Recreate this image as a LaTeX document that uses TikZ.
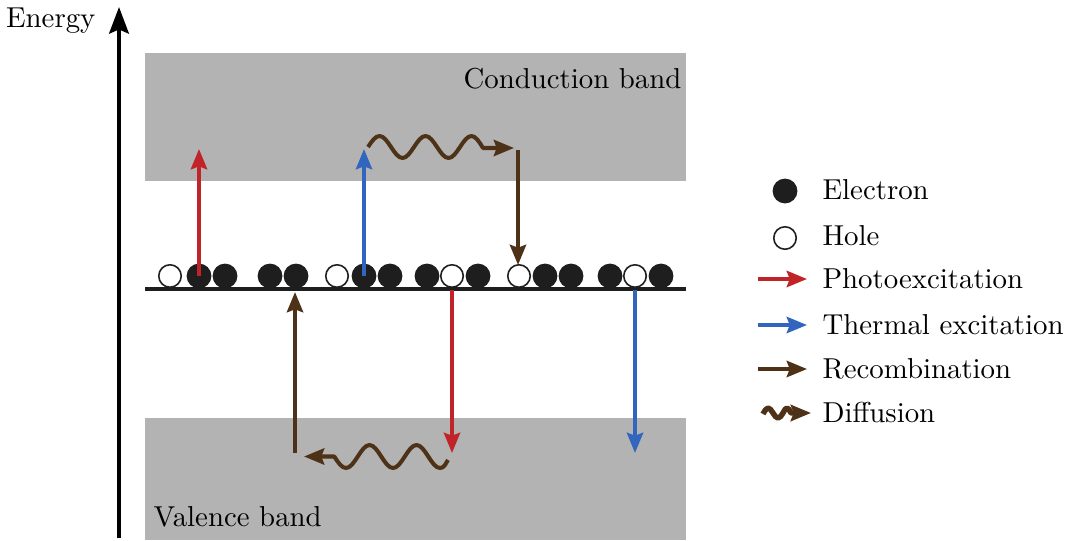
\documentclass[tikz,border=0pt]{standalone}
\usetikzlibrary{arrows.meta}
\definecolor{bandgray}{RGB}{179,179,179}
\definecolor{photored}{RGB}{193,36,40}
\definecolor{thermblue}{RGB}{50,102,190}
\definecolor{recbrown}{RGB}{78,50,24}
\definecolor{eldark}{RGB}{30,30,30}
\begin{document}
\begin{tikzpicture}[x=0.347pt,y=-0.347pt,
  band/.style={fill=bandgray,draw=none},
  el/.style={circle,fill=eldark,draw=eldark,line width=0.5pt,minimum size=8.1pt,inner sep=0pt},
  hl/.style={circle,fill=white,draw=eldark,line width=0.55pt,minimum size=7.8pt,inner sep=0pt},
  tr/.style={line width=1.4pt,-{Stealth[length=7pt,width=5.6pt,inset=1pt]}},
  photo/.style={tr,draw=photored,color=photored},
  therm/.style={tr,draw=thermblue,color=thermblue},
  recomb/.style={tr,draw=recbrown,color=recbrown},
  diff/.style={tr,draw=recbrown,color=recbrown,line join=round},
  lbl/.style={anchor=west,inner sep=0pt}]
\useasboundingbox (0,0) rectangle (1065,540);
% bands
\fill[band] (145,53) rectangle (686,181);
\fill[band] (145,418) rectangle (686,540);
\node[anchor=east,inner sep=0pt] (cb) at (682,79) {Conduction band};
\node[anchor=west,inner sep=0pt] (vb) at (153,517) {Valence band};
% energy axis
\coordinate (ax0) at (119,538);
\coordinate (ax1) at (119,7);
\draw[line width=1.4pt,-{Stealth[length=9.2pt,width=6.8pt,inset=1.4pt]}] (ax0) -- (ax1);
\node[anchor=east,inner sep=0pt] (en) at (96,21) {Energy};
% level line
\coordinate (l0) at (145,289);
\coordinate (l1) at (686,289);
\draw[line width=1.2pt,eldark] (l0) -- (l1);
% carriers
\node[hl] (c1) at (170,276) {};
\node[el] (c2) at (199,276) {};
\node[el] (c3) at (225,276) {};
\node[el] (c4) at (270,276) {};
\node[el] (c5) at (296,276) {};
\node[hl] (c6) at (337,276) {};
\node[el] (c7) at (364,276) {};
\node[el] (c8) at (390,276) {};
\node[el] (c9) at (427,276) {};
\node[hl] (c10) at (452,276) {};
\node[el] (c11) at (478,276) {};
\node[hl] (c12) at (519,276) {};
\node[el] (c13) at (545,276) {};
\node[el] (c14) at (571,276) {};
\node[el] (c15) at (610,276) {};
\node[hl] (c16) at (635,276) {};
\node[el] (c17) at (661,276) {};
% arrow end points
\coordinate (t1) at (199,149);
\coordinate (t2) at (364,149);
\coordinate (w1s) at (368,147);
\coordinate (w1e) at (514,148);
\coordinate (r1s) at (518,150);
\coordinate (r1e) at (518,265);
\coordinate (r2s) at (295,453);
\coordinate (r2e) at (295,292);
\coordinate (p2s) at (452,290);
\coordinate (p2e) at (452,453);
\coordinate (b2s) at (635,290);
\coordinate (b2e) at (635,453);
\coordinate (w2s) at (448,460);
\coordinate (w2e) at (304,456.5);
% transitions
\draw[photo] (c2.center) -- (t1);
\draw[therm] (c7.center) -- (t2);
\draw[diff] (w1s) sin (379.5,136) cos (391,147) sin (402.5,158) cos (414,147)
  sin (425.5,136) cos (437,147) sin (448.5,158) cos (460,147)
  sin (471.5,136) cos (483,148) -- (w1e);
\draw[recomb] (r1s) -- (r1e);
\draw[recomb] (r2s) -- (r2e);
\draw[photo] (p2s) -- (p2e);
\draw[therm] (b2s) -- (b2e);
\draw[diff] (w2s) to[out=235,in=0] (440,468) cos (428.25,456.5) sin (416.5,445)
  cos (404.75,456.5) sin (393,468) cos (381.25,456.5) sin (369.5,445)
  cos (357.75,456.5) sin (346,468) cos (334.25,456.5) -- (w2e);
% legend
\node[el] (le) at (785,191) {};
\node[lbl] (lt1) at (822,190) {Electron};
\node[hl] (lh) at (785,238) {};
\node[lbl] (lt2) at (822,236) {Hole};
\coordinate (a1s) at (758,279); \coordinate (a1e) at (807,279);
\draw[photo] (a1s) -- (a1e);
\node[lbl] (lt3) at (822,279) {Photoexcitation};
\coordinate (a2s) at (758,325); \coordinate (a2e) at (807,325);
\draw[therm] (a2s) -- (a2e);
\node[lbl] (lt4) at (822,325) {Thermal excitation};
\coordinate (a3s) at (758,369); \coordinate (a3e) at (807,369);
\draw[recomb] (a3s) -- (a3e);
\node[lbl] (lt5) at (822,369) {Recombination};
\coordinate (a4s) at (763,414); \coordinate (a4e) at (811,413);
\draw[diff,line width=1.9pt] (a4s) sin (768,408) cos (773,413) sin (778,418) cos (783,413)
  sin (787,408) cos (791,413) -- (a4e);
\node[lbl] (lt6) at (822,412) {Diffusion};
\end{tikzpicture}
\end{document}
